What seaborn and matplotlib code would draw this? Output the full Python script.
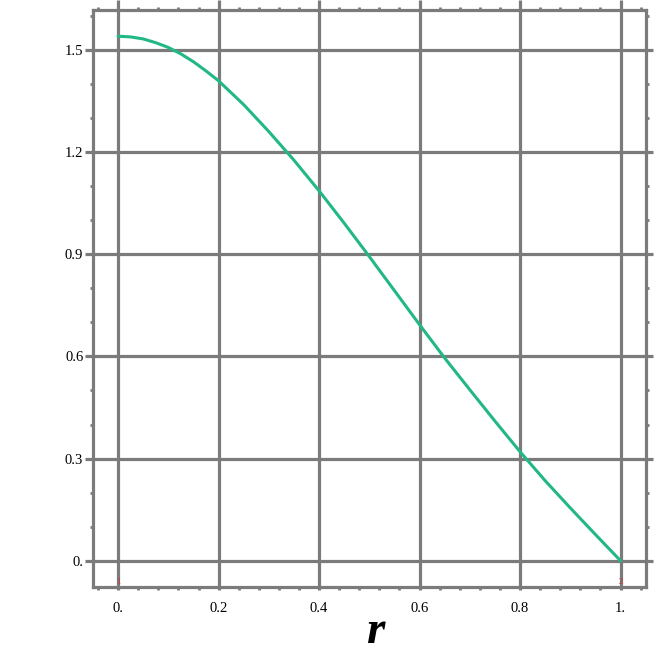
import numpy as np
import pandas as pd
import matplotlib
matplotlib.use("Agg")
import matplotlib.pyplot as plt
import seaborn as sns
from matplotlib.ticker import MultipleLocator, FixedLocator

r_vals = [0.0, 0.025, 0.05, 0.075, 0.1, 0.125, 0.15, 0.175, 0.2, 0.25, 0.3, 0.35, 0.4, 0.45, 0.5,
          0.55, 0.6, 0.65, 0.7, 0.75, 0.8, 0.85, 0.9, 0.95, 1.0]
f_vals = [1.540, 1.538, 1.532, 1.521, 1.507, 1.488, 1.465, 1.438, 1.409, 1.339, 1.260, 1.176,
          1.086, 0.991, 0.893, 0.793, 0.693, 0.595, 0.502, 0.410, 0.320, 0.235, 0.155, 0.077, 0.0]
x_ticks = [0.0, 0.2, 0.4, 0.6, 0.8, 1.0]
x_ticklabels = ["0.", "0.2", "0.4", "0.6", "0.8", "1."]
y_ticks = [0.0, 0.3, 0.6, 0.9, 1.2, 1.5]
y_ticklabels = ["0.", "0.3", "0.6", "0.9", "1.2", "1.5"]

df = pd.DataFrame({"r": r_vals, "f": f_vals})

sns.set_style("white")
plt.rcParams["font.family"] = ["Liberation Serif", "DejaVu Serif"]

GRAY = "#7b7b7b"
fig = plt.figure(figsize=(6.67, 6.55), dpi=100)
ax = fig.add_axes([93/667, 1-587/655, (645.7-93)/667, (587-10)/655])

ax.set_axisbelow(True)
ax.grid(True, which="major", color=GRAY, linewidth=2.3, zorder=0)
sns.lineplot(data=df, x="r", y="f", ax=ax, color="#22b883", linewidth=2.2, zorder=3)

ax.set_xlim(-0.05, 1.05)
ax.set_ylim(-0.077, 1.617)
ax.xaxis.set_major_locator(FixedLocator(x_ticks))
ax.yaxis.set_major_locator(FixedLocator(y_ticks))
ax.set_xticklabels(x_ticklabels)
ax.set_yticklabels(y_ticklabels)
ax.xaxis.set_minor_locator(MultipleLocator(0.04))
ax.yaxis.set_minor_locator(MultipleLocator(0.1))

for s in ax.spines.values():
    s.set_color(GRAY)
    s.set_linewidth(2.3)

ax.tick_params(axis="both", which="both", direction="out", color=GRAY,
               labelsize=10.5, labelcolor="black",
               top=True, right=True, bottom=True, left=True,
               labeltop=False, labelright=False)
ax.tick_params(axis="y", which="major", length=6, width=2.3, pad=1)
ax.tick_params(axis="x", which="major", length=2, width=2.3, pad=9)
ax.tick_params(axis="both", which="minor", length=2.5, width=2.0)
for t in ax.xaxis.get_major_ticks():
    t.tick2line.set_markersize(7)
for t in ax.yaxis.get_major_ticks():
    t.tick2line.set_markersize(5)

ax.set_xlabel("r", fontsize=34, fontstyle="italic", fontweight="bold", color="black")
ax.xaxis.label.set_va("center")
ax.xaxis.set_label_coords((375-93)/552.7, (587-632)/577)
ax.set_ylabel("")

ax.text(0.0, -0.062, "1", color="#d03030", fontsize=6, ha="center", va="center")
ax.text(1.0, -0.062, "2", color="#d03030", fontsize=6, ha="center", va="center")

fig.savefig("out.png", dpi=100, facecolor="white")
